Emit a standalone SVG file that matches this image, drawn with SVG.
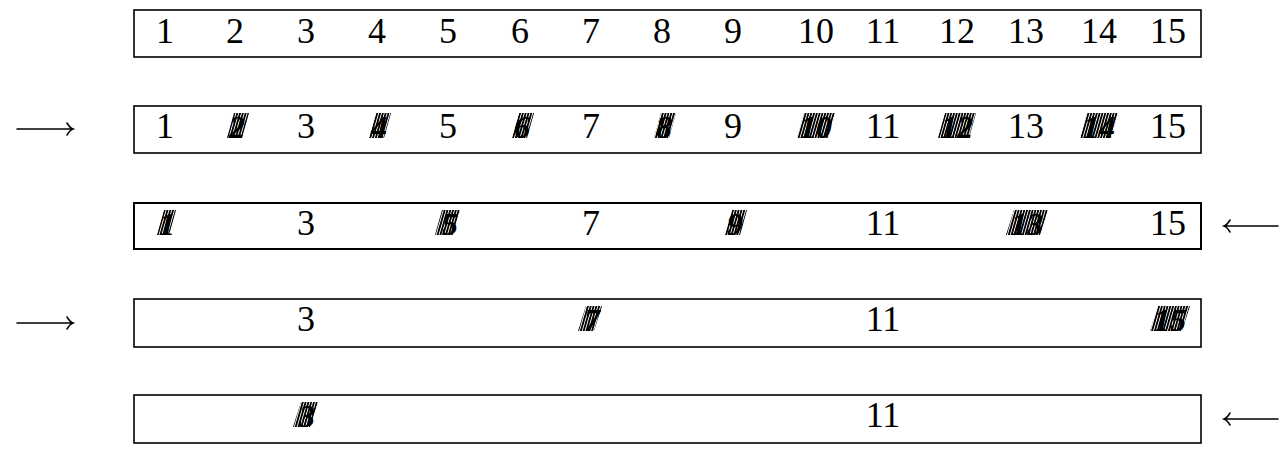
<svg xmlns="http://www.w3.org/2000/svg" width="1283" height="449" viewBox="0 0 1283 449">
<style>
.box{fill:#fff;stroke:#000;stroke-width:1.6}
.n{font-family:"Liberation Serif",serif;font-size:36px;fill:#000;text-anchor:middle}
.x{font-family:"Liberation Serif",serif;font-size:32px;font-style:italic;font-weight:bold;fill:#000;text-anchor:middle}
.ar{fill:none;stroke:#000;stroke-width:1.5;stroke-linecap:round}
</style>
<defs>
<pattern id="h" width="2.8" height="10" patternUnits="userSpaceOnUse" patternTransform="skewX(-16)">
<rect x="0" y="0" width="1.9" height="10" fill="#000"/>
</pattern>
</defs>
<rect width="1283" height="449" fill="#fff"/>
<g id="row1">
<rect class="box" x="134" y="10" width="1067" height="47"/>
<text class="n" x="165" y="43">1</text><text class="n" x="235" y="43">2</text><text class="n" x="306" y="43">3</text><text class="n" x="377" y="43">4</text><text class="n" x="448" y="43">5</text><text class="n" x="520" y="43">6</text><text class="n" x="591" y="43">7</text><text class="n" x="662" y="43">8</text><text class="n" x="733" y="43">9</text><text class="n" x="816" y="43">10</text><text class="n" x="883" y="43">11</text><text class="n" x="957" y="43">12</text><text class="n" x="1026" y="43">13</text><text class="n" x="1099" y="43">14</text><text class="n" x="1168" y="43">15</text>
</g>
<g id="row2">
<rect class="box" x="134" y="106" width="1067" height="47"/>
<text class="n" x="165" y="138">1</text><text class="n" x="306" y="138">3</text><text class="n" x="448" y="138">5</text><text class="n" x="591" y="138">7</text><text class="n" x="733" y="138">9</text><text class="n" x="883" y="138">11</text><text class="n" x="1026" y="138">13</text><text class="n" x="1168" y="138">15</text>
<text class="x" x="237" y="138">2</text><polygon fill="url(#h)" points="227,138 242,138 249,113 234,113"/>
<text class="x" x="379" y="138">4</text><polygon fill="url(#h)" points="369,138 384,138 391,113 376,113"/>
<text class="x" x="522" y="138">6</text><polygon fill="url(#h)" points="512,138 527,138 534,113 519,113"/>
<text class="x" x="664" y="138">8</text><polygon fill="url(#h)" points="654,138 669,138 676,113 661,113"/>
<text class="x" x="816" y="138">10</text><polygon fill="url(#h)" points="797,138 828,138 835,113 804,113"/>
<text class="x" x="957" y="138">12</text><polygon fill="url(#h)" points="938,138 969,138 976,113 945,113"/>
<text class="x" x="1099" y="138">14</text><polygon fill="url(#h)" points="1080,138 1111,138 1118,113 1087,113"/>
</g>
<g id="row3">
<rect class="box" x="134" y="203" width="1067" height="46" style="stroke-width:2"/>
<text class="n" x="306" y="235">3</text><text class="n" x="591" y="235">7</text><text class="n" x="883" y="235">11</text><text class="n" x="1168" y="235">15</text>
<text class="x" x="167" y="235">1</text><polygon fill="url(#h)" points="157,235 169,235 176,210 164,210"/>
<text class="x" x="450" y="235">5</text><polygon fill="url(#h)" points="435,235 453,235 460,210 442,210"/>
<text class="x" x="735" y="235">9</text><polygon fill="url(#h)" points="725,235 740,235 747,210 732,210"/>
<text class="x" x="1027" y="235">13</text><polygon fill="url(#h)" points="1006,235 1040,235 1048,210 1014,210"/>
</g>
<g id="row4">
<rect class="box" x="134" y="299" width="1067" height="48"/>
<text class="n" x="306" y="331">3</text><text class="n" x="883" y="331">11</text>
<text class="x" x="592" y="331">7</text><polygon fill="url(#h)" points="578,331 594,331 602,306 586,306"/>
<text class="x" x="1170" y="331">15</text><polygon fill="url(#h)" points="1150,331 1182,331 1190,306 1158,306"/>
</g>
<g id="row5">
<rect class="box" x="134" y="395" width="1067" height="48"/>
<text class="n" x="883" y="427">11</text>
<text class="x" x="307" y="427">3</text><polygon fill="url(#h)" points="293,427 310,427 318,402 301,402"/>
</g>
<g id="connectors">
<path class="ar" d="M17,129 H73 M67,123 Q70,128 73,129 Q70,130 67,135"/>
<path class="ar" d="M17,323 H73 M67,317 Q70,322 73,323 Q70,324 67,329"/>
<path class="ar" d="M1278,226 H1224 M1230,220 Q1227,225 1224,226 Q1227,227 1230,232"/>
<path class="ar" d="M1278,419 H1224 M1230,413 Q1227,418 1224,419 Q1227,420 1230,425"/>
</g>
</svg>
